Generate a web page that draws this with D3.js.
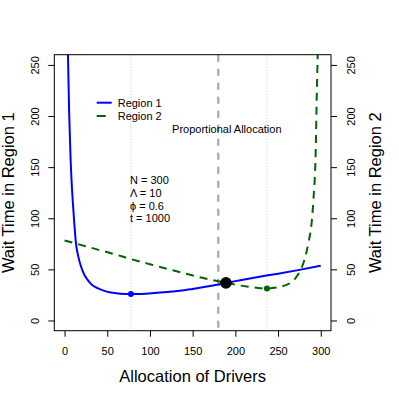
<!DOCTYPE html>
<html lang="en">
<head>
    <meta charset="UTF-8">
    <title>wait-time-allocation</title>
    <style>
        body { margin: 0; background: #fff; }
        text { font-family: "Liberation Sans", Arial, Helvetica, sans-serif; fill: #000; }
    </style>
</head>
<body>
    <div id="container"></div>
    <script src="https://cdn.jsdelivr.net/npm/d3@7"></script>
    <script type="text/javascript">

        // values
        var region1Drivers = [3.5, 4, 5.5, 7, 8.5, 10, 11.5, 13.3, 16, 19.2, 23, 27, 32, 38.6, 45, 54, 65, 77.7, 90, 105, 120, 135, 150, 165, 180, 189, 200, 225, 250, 275, 300];
        var region1Wait    = [290, 260, 200, 160, 132, 112, 94, 76, 63, 53, 45, 39.7, 35, 31.6, 29.4, 27.3, 26.2, 25.8, 26, 26.8, 27.8, 29, 30.9, 33, 35.2, 36.8, 38.5, 42.3, 45.8, 49.5, 53.5];

        var region2Drivers = [0, 20, 40, 60, 78, 100, 120, 140, 160, 180, 189, 200, 215, 225, 237, 250, 258, 264, 270, 276, 280, 283.6, 286, 288.6, 291.4, 294.1, 295.2, 296.4, 297];
        var region2Wait    = [78.3, 73.7, 69.1, 64.5, 60, 55, 50.6, 46.2, 42, 38.4, 36.8, 35, 33, 32, 31.3, 32.5, 34.3, 36.5, 41, 48.8, 57, 68, 78, 90, 118, 166, 215, 260, 290];

        var xTicks = [0, 50, 100, 150, 200, 250, 300];
        var yTicks = [0, 50, 100, 150, 200, 250];

        var optimum1 = [77.7, 25.8];
        var optimum2 = [237, 31.3];
        var crossing = [189, 36.8];
        var proportional = 180;

        var paramLines = ["N = 300", "\u039B = 10", "\u03D5 = 0.6", "t = 1000"];
        var seriesNames = ["Region 1", "Region 2"];

        var width = 399, height = 399;
        var box = {left: 54.3, right: 331, top: 54.7, bottom: 330.7};

        var svg = d3.select("#container").append("svg")
            .attr("width", width)
            .attr("height", height);

        var x = d3.scaleLinear().domain([-12, 312]).range([box.left, box.right]);
        var y = d3.scaleLinear().domain([-10, 260]).range([box.bottom, box.top]);

        svg.append("clipPath").attr("id", "plotclip")
            .append("rect")
            .attr("x", box.left).attr("y", box.top)
            .attr("width", box.right - box.left).attr("height", box.bottom - box.top);

        var plot = svg.append("g").attr("clip-path", "url(#plotclip)");

        // reference verticals
        plot.append("line")
            .attr("x1", x(optimum1[0])).attr("x2", x(optimum1[0]))
            .attr("y1", box.top).attr("y2", box.bottom)
            .attr("stroke", "#bcbcff").attr("stroke-width", 1)
            .attr("stroke-dasharray", "1,2");

        plot.append("line")
            .attr("x1", x(optimum2[0])).attr("x2", x(optimum2[0]))
            .attr("y1", box.top).attr("y2", box.bottom)
            .attr("stroke", "#bcd8bc").attr("stroke-width", 1)
            .attr("stroke-dasharray", "1,2");

        plot.append("line")
            .attr("x1", x(proportional)).attr("x2", x(proportional))
            .attr("y1", box.top).attr("y2", box.bottom)
            .attr("stroke", "#b0b0b0").attr("stroke-width", 2.5)
            .attr("stroke-dasharray", "7,7");

        var line = d3.line()
            .x(function(d) { return x(d[0]); })
            .y(function(d) { return y(d[1]); })
            .curve(d3.curveMonotoneX);

        plot.append("path")
            .datum(d3.zip(region1Drivers, region1Wait))
            .attr("d", line)
            .attr("fill", "none")
            .attr("stroke", "#0000ff")
            .attr("stroke-width", 2);

        plot.append("path")
            .datum(d3.zip(region2Drivers, region2Wait))
            .attr("d", line)
            .attr("fill", "none")
            .attr("stroke", "#006400")
            .attr("stroke-width", 2)
            .attr("stroke-dasharray", "8,6");

        plot.append("circle")
            .attr("cx", x(optimum1[0])).attr("cy", y(optimum1[1]))
            .attr("r", 3).attr("fill", "#0000ff");
        plot.append("circle")
            .attr("cx", x(optimum2[0])).attr("cy", y(optimum2[1]))
            .attr("r", 3).attr("fill", "#006400");
        plot.append("circle")
            .attr("cx", x(crossing[0])).attr("cy", y(crossing[1]))
            .attr("r", 5.8).attr("fill", "#000");

        // box
        svg.append("rect")
            .attr("x", box.left).attr("y", box.top)
            .attr("width", box.right - box.left).attr("height", box.bottom - box.top)
            .attr("fill", "none").attr("stroke", "#000").attr("stroke-width", 1);

        // axes
        var xAxis = svg.append("g")
            .attr("transform", "translate(0," + box.bottom + ")")
            .call(d3.axisBottom(x).tickValues(xTicks).tickSize(6).tickSizeOuter(0));
        xAxis.select(".domain").remove();
        xAxis.selectAll("text")
            .attr("y", 24.3).attr("dy", null)
            .attr("font-size", 11).attr("font-family", null);

        var yLeft = svg.append("g")
            .attr("transform", "translate(" + box.left + ",0)")
            .call(d3.axisLeft(y).tickValues(yTicks).tickSize(6).tickSizeOuter(0));
        yLeft.select(".domain").remove();
        yLeft.selectAll("text")
            .attr("x", null).attr("dy", null)
            .attr("text-anchor", "middle")
            .attr("transform", "translate(-15.3,0) rotate(-90)")
            .attr("font-size", 11).attr("font-family", null);

        var yRight = svg.append("g")
            .attr("transform", "translate(" + box.right + ",0)")
            .call(d3.axisRight(y).tickValues(yTicks).tickSize(6).tickSizeOuter(0));
        yRight.select(".domain").remove();
        yRight.selectAll("text")
            .attr("x", null).attr("dy", null)
            .attr("text-anchor", "middle")
            .attr("transform", "translate(24,0) rotate(-90)")
            .attr("font-size", 11).attr("font-family", null);

        svg.selectAll(".tick line").attr("stroke", "#000");

        var midY = (box.top + box.bottom) / 2;
        var midX = (box.left + box.right) / 2;

        svg.append("text")
            .attr("x", midX).attr("y", 382.3)
            .attr("text-anchor", "middle")
            .attr("font-size", 16.5)
            .text("Allocation of Drivers");

        svg.append("text")
            .attr("transform", "translate(13.5," + midY + ") rotate(-90)")
            .attr("text-anchor", "middle")
            .attr("font-size", 16.5)
            .text("Wait Time in Region 1");

        svg.append("text")
            .attr("transform", "translate(381," + midY + ") rotate(-90)")
            .attr("text-anchor", "middle")
            .attr("font-size", 16.5)
            .text("Wait Time in Region 2");

        // legend
        var legend = svg.append("g");
        var legendY = [102.7, 116];
        var legendStyle = [{c: "#0000ff", dash: null}, {c: "#006400", dash: "9,7"}];
        seriesNames.forEach(function(name, i) {
            legend.append("line")
                .attr("x1", 96.7).attr("x2", 111.7)
                .attr("y1", legendY[i]).attr("y2", legendY[i])
                .attr("stroke", legendStyle[i].c).attr("stroke-width", 2)
                .attr("stroke-dasharray", legendStyle[i].dash);
            legend.append("text")
                .attr("x", 117.7).attr("y", legendY[i] + 4)
                .attr("font-size", 11)
                .text(name);
        });

        svg.append("text")
            .attr("x", x(190)).attr("y", 133.3)
            .attr("text-anchor", "middle")
            .attr("font-size", 11)
            .text("Proportional Allocation");

        svg.append("g").selectAll("text")
            .data(paramLines)
            .enter().append("text")
            .attr("x", 130)
            .attr("y", function(d, i) { return 184 + i * 12.8; })
            .attr("font-size", 11)
            .text(function(d) { return d; });

    </script>
</body>
</html>
